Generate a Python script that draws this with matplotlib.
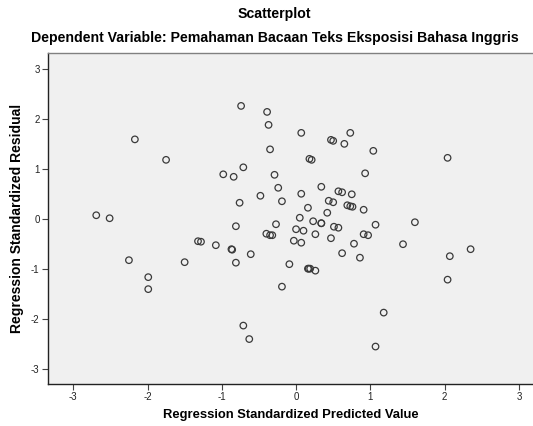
import matplotlib
matplotlib.use("Agg")
import matplotlib.pyplot as plt

# Regression standardized predicted value (x) and residual (y)
pred = [-0.74, -0.39, -0.37, -2.17, -0.35, -1.75, -0.71, -0.98, -0.84, -0.29,
        -0.24, -0.48, -0.19, -0.76, -2.69, -2.51, -0.81, -0.27, -0.40, -0.35,
        -0.32, -1.32, -1.28, -1.08, -0.87, -0.86, -0.61, -2.25, -1.50, -0.81,
        -0.09, -0.19, -1.99, -1.99, -0.71, -0.63, -0.03, 0.07, 0.73, 0.47,
        0.50, 0.65, 1.04, 2.04, 0.18, 0.21, 0.93, 0.34, 0.57, 0.62,
        0.75, 0.07, 0.16, 0.44, 0.50, 0.69, 0.73, 0.76, 0.91, 0.42,
        0.05, 0.23, 0.34, 0.34, 1.07, 1.60, 0.00, 0.10, 0.51, 0.57,
        0.91, 0.97, 0.26, 0.07, 0.47, 0.78, 1.44, 2.35, 2.07, 0.62,
        0.86, 0.16, 0.17, 0.19, 0.26, 2.04, 1.18, 1.07]
resid = [2.26, 2.14, 1.88, 1.59, 1.39, 1.18, 1.03, 0.89, 0.84, 0.88,
         0.62, 0.46, 0.35, 0.32, 0.07, 0.01, -0.15, -0.11, -0.30, -0.33,
         -0.33, -0.45, -0.46, -0.53, -0.61, -0.62, -0.71, -0.83, -0.87, -0.88,
         -0.91, -1.36, -1.17, -1.41, -2.14, -2.41, -0.44, 1.72, 1.72, 1.58,
         1.56, 1.50, 1.36, 1.22, 1.20, 1.18, 0.91, 0.64, 0.55, 0.53,
         0.49, 0.50, 0.22, 0.36, 0.33, 0.27, 0.25, 0.24, 0.18, 0.12,
         0.02, -0.05, -0.09, -0.09, -0.12, -0.07, -0.21, -0.24, -0.16, -0.18,
         -0.31, -0.33, -0.31, -0.48, -0.39, -0.50, -0.51, -0.61, -0.75, -0.69,
         -0.78, -1.00, -1.00, -1.00, -1.04, -1.22, -1.88, -2.56]

ticks = [-3, -2, -1, 0, 1, 2, 3]

plt.rcParams['font.family'] = ['Liberation Sans', 'DejaVu Sans']
plt.rcParams['axes.unicode_minus'] = False

fig = plt.figure(figsize=(5.33, 4.26), dpi=100)
fig.patch.set_facecolor('white')
ax = fig.add_axes([0.090, 0.0986, 0.910, 0.777])
ax.set_facecolor('#f0f0f0')

ax.scatter(pred, resid, s=22, facecolors='none', edgecolors='#3a3a3a', linewidths=0.9, zorder=3)

ax.set_xlim(-3.34, 3.19)
ax.set_ylim(-3.31, 3.32)
ax.set_xticks(ticks)
ax.set_yticks(ticks)
ax.tick_params(direction='out', length=4, width=0.8, color='#444444',
               labelsize=7, labelcolor='#222222', pad=2)

ax.spines['right'].set_visible(False)
ax.spines['top'].set_color('#808080')
ax.spines['left'].set_color('#222222')
ax.spines['bottom'].set_color('#222222')
for s in ax.spines.values():
    s.set_linewidth(1.0)

ax.set_xlabel("Regression Standardized Predicted Value", fontsize=9.4, fontweight='bold', labelpad=5)
ax.set_ylabel("Regression Standardized Residual", fontsize=10, fontweight='bold', labelpad=5)

fig.text(0.514, 0.966, "Scatterplot", ha='center', va='center', fontsize=10.2, fontweight='bold')
fig.text(0.515, 0.910, "Dependent Variable: Pemahaman Bacaan Teks Eksposisi Bahasa Inggris",
         ha='center', va='center', fontsize=10.2, fontweight='bold')

fig.savefig("out.png", dpi=100)
